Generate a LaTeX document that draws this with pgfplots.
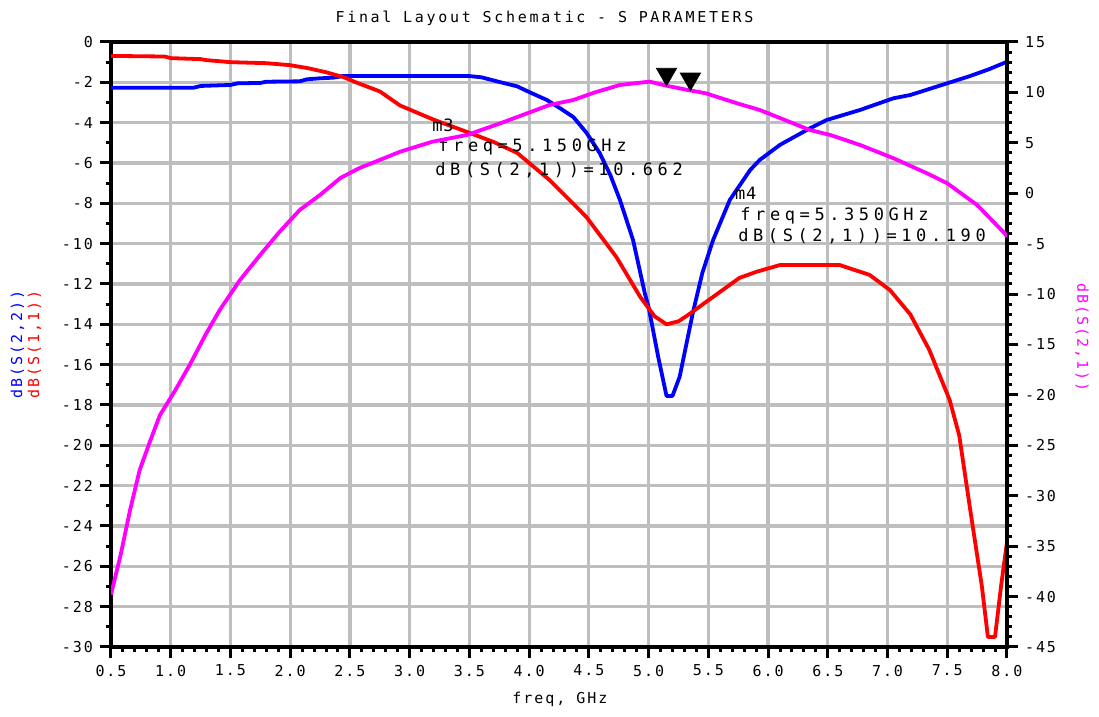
\documentclass[border=0pt]{standalone}
\usepackage{fontspec}
\usepackage{pgfplots}
\usepackage{pgfplotstable}
\pgfplotsset{compat=1.18}
\newfontfamily\adsfont[LetterSpace=13]{DejaVu Sans Mono}
\newfontfamily\adstitle[LetterSpace=18]{DejaVu Sans Mono}
\newfontfamily\adsmark[LetterSpace=27]{DejaVu Sans Mono}
\newfontfamily\adsm[LetterSpace=5]{DejaVu Sans Mono}
\definecolor{gridgray}{RGB}{190,190,190}
\definecolor{sred}{RGB}{255,0,0}
\definecolor{sblue}{RGB}{0,0,255}
\definecolor{smag}{RGB}{255,0,255}

\pgfplotstableread{
f v
0.50 -2.27
1.19 -2.27
1.25 -2.18
1.50 -2.13
1.56 -2.05
1.75 -2.03
1.80 -1.97
2.08 -1.95
2.14 -1.85
2.25 -1.80
2.36 -1.77
2.44 -1.69
3.50 -1.69
3.60 -1.75
3.75 -1.98
3.90 -2.20
4.00 -2.48
4.15 -2.88
4.25 -3.25
4.37 -3.72
4.48 -4.50
4.59 -5.50
4.68 -6.60
4.76 -7.83
4.87 -9.82
4.97 -12.50
5.00 -13.14
5.08 -15.60
5.15 -17.55
5.20 -17.55
5.26 -16.60
5.37 -13.44
5.45 -11.45
5.54 -9.82
5.68 -7.83
5.85 -6.35
5.93 -5.85
6.10 -5.10
6.35 -4.28
6.49 -3.87
6.77 -3.37
7.05 -2.79
7.19 -2.63
7.44 -2.16
7.69 -1.69
7.85 -1.35
8.00 -0.98
}\sTT

\pgfplotstableread{
f v
0.50 -0.69
0.95 -0.72
1.00 -0.80
1.25 -0.85
1.30 -0.90
1.50 -1.00
1.80 -1.05
2.00 -1.15
2.15 -1.30
2.30 -1.50
2.45 -1.75
2.55 -2.00
2.75 -2.45
2.92 -3.15
3.20 -3.85
3.48 -4.46
3.70 -4.95
3.90 -5.50
4.17 -6.84
4.48 -8.68
4.73 -10.66
4.93 -12.64
5.05 -13.60
5.15 -14.00
5.25 -13.85
5.32 -13.58
5.54 -12.64
5.76 -11.70
5.90 -11.40
6.10 -11.06
6.60 -11.06
6.85 -11.55
7.02 -12.30
7.19 -13.50
7.35 -15.27
7.52 -17.75
7.60 -19.50
7.70 -23.50
7.79 -27.00
7.84 -29.50
7.90 -29.50
7.95 -27.00
8.00 -24.80
}\sOO

\pgfplotstableread{
f v
0.50 -39.80
0.58 -35.90
0.66 -31.40
0.74 -27.45
0.83 -24.50
0.91 -22.00
1.04 -19.50
1.16 -17.00
1.29 -14.06
1.41 -11.58
1.58 -8.60
1.75 -6.10
1.91 -3.84
2.08 -1.66
2.25 -0.17
2.42 1.51
2.58 2.50
2.75 3.30
2.92 4.12
3.19 5.11
3.48 5.78
3.76 6.94
4.17 8.75
4.37 9.25
4.55 10.00
4.76 10.74
5.01 11.07
5.15 10.66
5.35 10.19
5.48 9.91
5.74 8.92
5.93 8.26
6.35 6.27
6.52 5.78
6.77 4.79
7.05 3.47
7.33 1.98
7.50 0.99
7.75 -1.17
7.98 -3.97
8.00 -4.30
}\sTO

\pgfplotstableread{
f v
5.15 10.662
5.35 10.190
}\marks

\begin{document}
\begin{tikzpicture}
\pgfplotsset{
  adsaxis/.style={
    scale only axis, width=448pt, height=302.5pt,
    xmin=0.5, xmax=8,
    tick align=outside,
    axis line style={line width=1.6pt, black},
    major tick length=5.5pt, minor tick length=2.5pt,
    every tick/.style={black, line width=1.5pt},
    /pgf/number format/assume math mode=true,
    tick label style={font=\adsfont\fontsize{7.5}{9}\selectfont},
  }
}
\begin{axis}[adsaxis,
  ymin=-30, ymax=0,
  xtick={0.5,1,...,8}, ytick={-30,-28,...,0},
  minor x tick num=4, minor y tick num=1,
  xtick pos=bottom, ytick pos=left,
  xticklabel={\pgfmathprintnumber[fixed,fixed zerofill,precision=1]{\tick}},
  grid=major, major grid style={gridgray, line width=1.6pt},
  xlabel={freq, GHz},
  xlabel style={font=\adsfont\fontsize{7.5}{9}\selectfont, at={(axis description cs:0.501,-0.0926)}, anchor=base},
  ylabel={\color{sblue}dB(S(2,2))\\\color{sred}dB(S(1,1))},
  ylabel style={font=\adsfont\fontsize{7.5}{8.5}\selectfont, align=center, at={(axis description cs:-0.0949,0.5)}, anchor=center},
  clip=false,
]
\addplot[sblue, line width=1.9pt, line join=round] table[x=f,y=v] {\sTT};
\addplot[sred, line width=1.9pt, line join=round] table[x=f,y=v] {\sOO};
\node[anchor=base, inner sep=0, font=\adstitle\fontsize{7.5}{9}\selectfont] at (axis description cs:0.4838,1.0314) {Final Layout Schematic - S PARAMETERS};
\node[anchor=base west, inner sep=0, font=\adsm\fontsize{8.5}{9}\selectfont] at (axis cs:3.187,-4.46) {m3};
\node[anchor=base west, inner sep=0, font=\adsmark\fontsize{8.5}{9}\selectfont] at (axis cs:3.237,-5.45) {freq=5.150GHz};
\node[anchor=base west, inner sep=0, font=\adsmark\fontsize{8.5}{9}\selectfont] at (axis cs:3.212,-6.64) {dB(S(2,1))=10.662};
\node[anchor=base west, inner sep=0, font=\adsm\fontsize{8.5}{9}\selectfont] at (axis cs:5.72,-7.83) {m4};
\node[anchor=base west, inner sep=0, font=\adsmark\fontsize{8.5}{9}\selectfont] at (axis cs:5.765,-8.87) {freq=5.350GHz};
\node[anchor=base west, inner sep=0, font=\adsmark\fontsize{8.5}{9}\selectfont] at (axis cs:5.748,-9.90) {dB(S(2,1))=10.190};
\end{axis}
\begin{axis}[adsaxis,
  ymin=-45, ymax=15,
  ytick={-45,-40,...,15}, minor y tick num=4,
  axis y line*=right, axis x line=none,
  ytick pos=right,
  ylabel={dB(S(2,1))},
  ylabel style={font=\adsfont\fontsize{7.5}{9}\selectfont, color=smag, rotate=180, at={(axis description cs:1.0837,0.512)}, anchor=center},
]
\addplot[smag, line width=1.9pt, line join=round] table[x=f,y=v] {\sTO};
\addplot[only marks, mark=triangle*, mark size=5.8pt, mark options={yshift=5.8pt, rotate=180, fill=black, draw=black}] table[x=f,y=v] {\marks};
\end{axis}
\pgfresetboundingbox
\path (-55.5pt,-35pt) rectangle (494pt,323.5pt);
\end{tikzpicture}
\end{document}
